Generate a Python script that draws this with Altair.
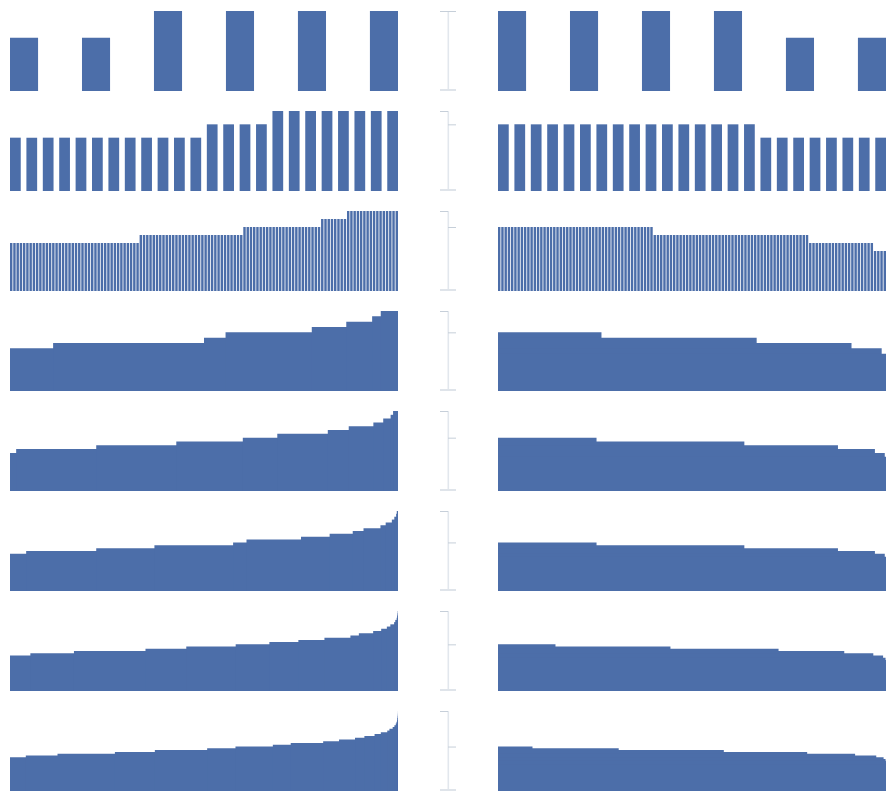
import altair as alt
import pandas as pd

# ---- data: comparison counts per arrangement, as value / how-many runs ----
# left panels (ascending), right panels (descending)
left3_values = [2, 3]
left3_counts = [2, 4]
right3_values = [3, 2]
right3_counts = [4, 2]

left4_values = [4, 5, 6]
left4_counts = [12, 4, 8]
right4_values = [5, 4]
right4_counts = [16, 8]

left5_values = [6, 7, 8, 9, 10]
left5_counts = [40, 32, 24, 8, 16]
right5_values = [8, 7, 6, 5]
right5_counts = [48, 48, 20, 4]

left6_values = [8, 9, 10, 11, 12, 13, 14, 15]
left6_counts = [80, 280, 40, 160, 64, 48, 16, 32]
right6_values = [11, 10, 9, 8, 7]
right6_counts = [192, 288, 176, 56, 8]

left7_values = [10, 11, 12, 13, 14, 15, 16, 17, 18, 19, 20, 21]
left7_counts = [80, 1040, 1040, 864, 448, 656, 272, 320, 128, 96, 32, 64]
right7_values = [14, 13, 12, 11, 10, 9]
right7_counts = [1280, 1920, 1216, 480, 128, 16]

left8_values = [13, 14, 15, 16, 17, 18, 19, 20, 21, 22, 23, 24, 25, 26, 27, 28]
left8_counts = [1680, 7280, 6048, 8176, 1392, 5664, 2976, 2400, 1120, 1760,
                544, 640, 256, 192, 64, 128]
right8_values = [17, 16, 15, 14, 13, 12]
right8_counts = [10240, 15360, 9728, 3840, 1024, 128]

left9_values = [16, 17, 18, 19, 20, 21, 22, 23, 24, 25, 26, 27, 28, 29, 30,
                31, 32, 33, 34, 35, 36]
left9_counts = [19040, 40768, 66912, 38144, 46208, 31520, 27104, 24384, 24288,
                7904, 13376, 7488, 5312, 3264, 3520, 1088, 1280, 512, 384, 128, 256]
right9_values = [21, 20, 19, 18, 17, 16, 15, 14, 13]
right9_counts = [53760, 107520, 101120, 61440, 27168, 9152, 2304, 384, 32]

left10_values = [19, 20, 21, 22, 23, 24, 25, 26, 27, 28, 29, 30, 31, 32, 33,
                 34, 35, 36, 37, 38, 39, 40, 41, 42, 43, 44, 45]
left10_counts = [147840, 296448, 536832, 373536, 489312, 264768, 349600, 167264,
                 303360, 148288, 149440, 87808, 95104, 58560, 60096, 20416, 30208,
                 16128, 12928, 6528, 7040, 2176, 2560, 1024, 768, 256, 512]
right10_values = [25, 24, 23, 22, 21, 20, 19, 18, 17, 16, 15]
right10_counts = [322560, 806400, 983040, 779520, 448448, 197856, 68448, 18368,
                  3648, 480, 32]

ROWS = [
    (left3_values, left3_counts, right3_values, right3_counts),
    (left4_values, left4_counts, right4_values, right4_counts),
    (left5_values, left5_counts, right5_values, right5_counts),
    (left6_values, left6_counts, right6_values, right6_counts),
    (left7_values, left7_counts, right7_values, right7_counts),
    (left8_values, left8_counts, right8_values, right8_counts),
    (left9_values, left9_counts, right9_values, right9_counts),
    (left10_values, left10_counts, right10_values, right10_counts),
]
# band gap per row for rows drawn bar-by-bar (None = drawn as runs)
GAPS = [0.61, 0.345, 0.25, None, None, None, None, None]

BAR = "#4c6ea9"
W, H = 388, 80


def panel(values, counts, ymax, gap, ascending):
    yscale = alt.Scale(domain=[0, ymax], nice=False, zero=True)
    if gap is not None:
        heights = []
        for v, c in zip(values, counts):
            heights += [v] * c
        df = pd.DataFrame({"i": list(range(len(heights))), "v": heights})
        return alt.Chart(df).mark_bar(color=BAR).encode(
            x=alt.X("i:O", sort=None, axis=None,
                    scale=alt.Scale(paddingInner=gap, paddingOuter=0)),
            y=alt.Y("v:Q", axis=None, scale=yscale),
        ).properties(width=W, height=H)
    total = sum(counts)
    starts, ends, acc = [], [], 0
    for c in counts:
        starts.append(acc)
        acc += c
        ends.append(acc)
    # each run is drawn over the span where the values reach at least its level
    if ascending:
        x0 = starts
        x1 = [total] * len(counts)
    else:
        x0 = [0] * len(counts)
        x1 = ends
    df = pd.DataFrame({"x0": x0, "x1": x1, "v": values, "b": [0] * len(values),
                       "o": list(range(len(values)))})
    return alt.Chart(df).mark_rect(color=BAR).encode(
        x=alt.X("x0:Q", axis=None, scale=alt.Scale(domain=[0, total], nice=False, zero=False)),
        x2="x1:Q",
        y=alt.Y("v:Q", axis=None, scale=yscale),
        y2="b:Q",
        order=alt.Order("o:Q"),
    ).properties(width=W, height=H)


def middle(ymax, rmax):
    yscale = alt.Scale(domain=[0, ymax], nice=False)
    df = pd.DataFrame({"lo": [0], "hi": [ymax], "lm": [ymax], "rm": [rmax]})
    base = alt.Chart(df)
    vline = base.mark_rule(color="#e2e7ed", strokeWidth=1.6).encode(
        x=alt.value(8.3), y=alt.Y("lo:Q", axis=None, scale=yscale), y2="hi:Q")
    ltick = base.mark_rule(color="#c6cfd9", strokeWidth=1, yOffset=0.5).encode(
        x=alt.value(0), x2=alt.value(8), y=alt.Y("lm:Q", axis=None, scale=yscale))
    rtick = base.mark_rule(color="#c6cfd9", strokeWidth=1, yOffset=0.5).encode(
        x=alt.value(8), x2=alt.value(16), y=alt.Y("rm:Q", axis=None, scale=yscale))
    btick = base.mark_rule(color="#dfe4ea", strokeWidth=2, yOffset=-1).encode(
        x=alt.value(0), x2=alt.value(16), y=alt.Y("lo:Q", axis=None, scale=yscale))
    return alt.layer(vline, btick, ltick, rtick).properties(width=16, height=H)


cells = []
for (lv, lc, rv, rc), gap in zip(ROWS, GAPS):
    ymax = max(max(lv), max(rv))
    cells.append(panel(lv, lc, ymax, gap, True))
    cells.append(middle(ymax, max(rv)))
    cells.append(panel(rv, rc, ymax, gap, False))

chart = alt.concat(
    *cells, columns=3, spacing={"row": 20, "column": 42},
    bounds="flush", align="each",
).properties(padding=10, background="white").configure_view(stroke=None)

chart.save("out.html", embed_options={"renderer": "svg", "actions": False})
